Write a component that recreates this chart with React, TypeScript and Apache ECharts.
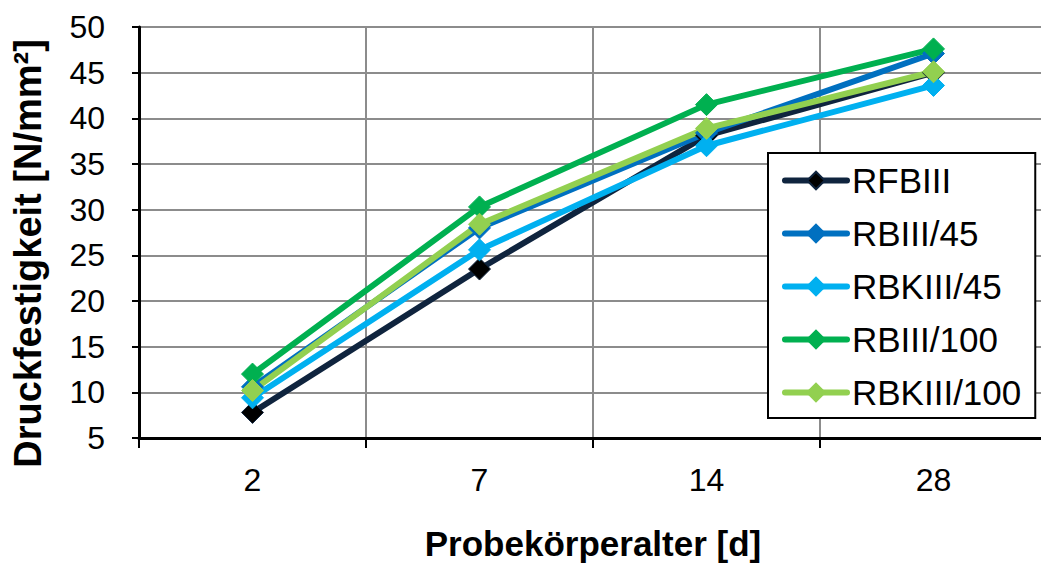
import React, { useEffect, useRef } from "react";
import * as echarts from "echarts";

// Probekörperalter in Tagen
const ages = ["2", "7", "14", "28"];

// Druckfestigkeit [N/mm²] je Mischung
const rfbIII = [7.8, 23.5, 38.1, 45.0];
const rbIII45 = [10.6, 28.0, 38.4, 47.1];
const rbkIII45 = [9.4, 25.6, 37.0, 43.6];
const rbIII100 = [12.0, 30.3, 41.5, 47.6];
const rbkIII100 = [10.2, 28.4, 38.9, 45.1];

const yTicks = { min: 5, max: 50, step: 5 };

const FONT = "'Liberation Sans', Arial, Helvetica, sans-serif";

const seriesDefs = [
  { name: "RFBIII", data: rfbIII, line: "#0F243E", fill: "#000000" },
  { name: "RBIII/45", data: rbIII45, line: "#0070C0", fill: "#0070C0" },
  { name: "RBKIII/45", data: rbkIII45, line: "#00B0F0", fill: "#00B0F0" },
  { name: "RBIII/100", data: rbIII100, line: "#00B050", fill: "#00B050" },
  { name: "RBKIII/100", data: rbkIII100, line: "#92D050", fill: "#92D050" },
];

export default function App() {
  const ref = useRef<HTMLDivElement>(null);

  useEffect(() => {
    if (!ref.current) return;
    const chart = echarts.init(ref.current, undefined, { renderer: "svg" });
    chart.setOption({
      animation: false,
      backgroundColor: "#ffffff",
      textStyle: { fontFamily: FONT },
      grid: {
        left: 139,
        top: 27,
        right: -6,
        bottom: 127,
        containLabel: false,
        outerBoundsMode: "none",
      },
      legend: {
        orient: "vertical",
        left: 768,
        top: 153,
        padding: [10, 14, 8, 14],
        itemGap: 18,
        itemWidth: 62,
        itemHeight: 22,
        backgroundColor: "#ffffff",
        borderColor: "#000000",
        borderWidth: 2,
        borderRadius: 0,
        lineStyle: { width: 6, cap: "round" },
        textStyle: {
          fontFamily: FONT,
          fontSize: 35,
          lineHeight: 35,
          color: "#000000",
        },
        data: seriesDefs.map((s) => s.name),
      },
      xAxis: {
        type: "category",
        data: ages,
        boundaryGap: true,
        name: "Probekörperalter [d]",
        nameLocation: "middle",
        nameGap: 88,
        nameTextStyle: {
          fontFamily: FONT,
          fontSize: 35,
          fontWeight: "bold",
          color: "#000000",
        },
        axisLine: { show: true, lineStyle: { color: "#000000", width: 3 } },
        axisTick: {
          show: true,
          alignWithLabel: false,
          length: 10,
          lineStyle: { color: "#000000", width: 2 },
        },
        axisLabel: {
          fontFamily: FONT,
          fontSize: 32,
          color: "#000000",
          margin: 26,
        },
        splitLine: { show: true, lineStyle: { color: "#8C8C8C", width: 2 } },
      },
      yAxis: {
        type: "value",
        min: yTicks.min,
        max: yTicks.max,
        interval: yTicks.step,
        name: "Druckfestigkeit [N/mm²]",
        nameLocation: "middle",
        nameGap: 92,
        nameRotate: 90,
        nameTextStyle: {
          fontFamily: FONT,
          fontSize: 38,
          fontWeight: "bold",
          color: "#000000",
          padding: [0, 42, 0, 0],
        },
        axisLine: { show: true, lineStyle: { color: "#000000", width: 3 } },
        axisTick: {
          show: true,
          inside: false,
          length: 7,
          lineStyle: { color: "#000000", width: 2 },
        },
        axisLabel: {
          fontFamily: FONT,
          fontSize: 32,
          color: "#000000",
          margin: 34,
        },
        splitLine: { show: true, lineStyle: { color: "#8C8C8C", width: 2 } },
      },
      series: seriesDefs.map((s) => ({
        name: s.name,
        type: "line",
        data: s.data,
        symbol: "diamond",
        symbolSize: 22,
        showSymbol: true,
        lineStyle: { color: s.line, width: 6 },
        itemStyle: {
          color: s.fill,
          borderColor: s.line,
          borderWidth: 1,
        },
        emphasis: { disabled: true },
      })),
    });
    return () => chart.dispose();
  }, []);

  return (
    <div
      ref={ref}
      style={{
        width: 1041,
        height: 565,
        position: "absolute",
        left: 0,
        top: 0,
        background: "#ffffff",
      }}
    />
  );
}
